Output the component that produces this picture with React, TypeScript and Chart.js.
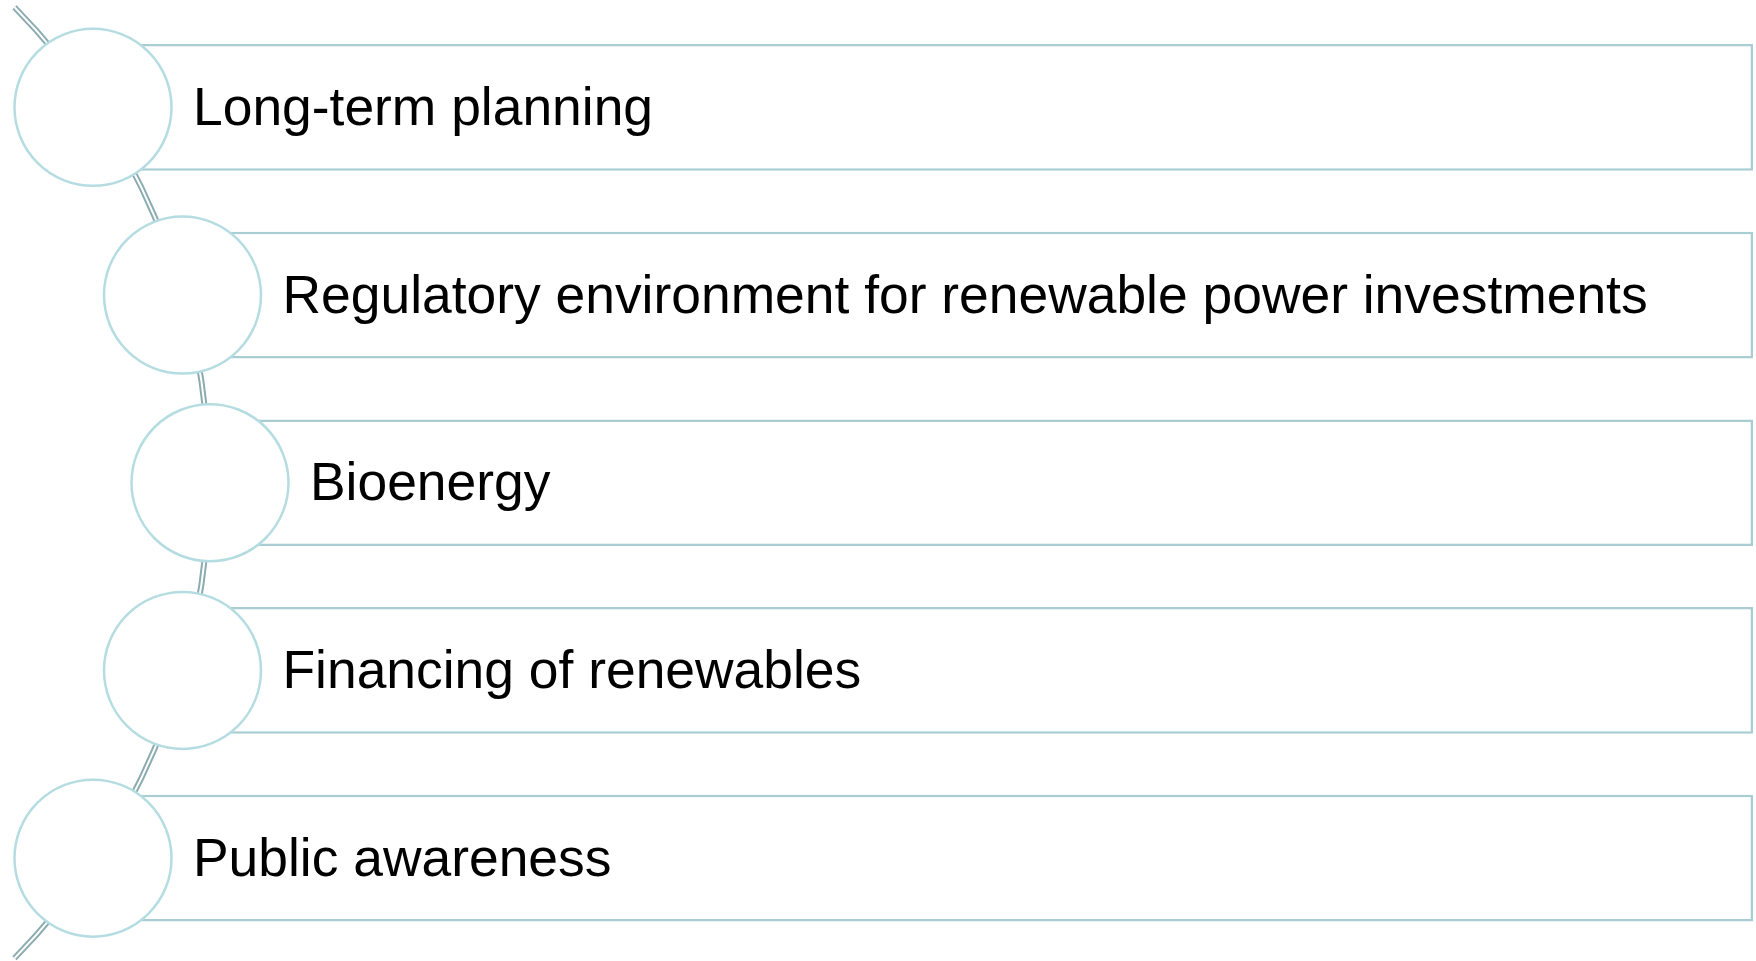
import React, { useEffect, useRef } from "react";
import { Chart, registerables } from "chart.js";

Chart.register(...registerables);

const labels = [
  "Long-term planning",
  "Regulatory environment for renewable power investments",
  "Bioenergy",
  "Financing of renewables",
  "Public awareness",
];
// x position (layout units) of each marker circle centre
const circleX = [93, 182.5, 210, 182.5, 93];
// right end of each list bar
const barEnd = [1753, 1753, 1753, 1753, 1753];
// connector arc: centre x (layout units) and radius
const arcCenterX = -469.5;
const arcRadius = 678.5;
const arcHalfSpan = 475.5;

const W = 1756;
const H = 961;

const drawPlugin = {
  id: "listDecor",
  beforeDatasetsDraw(chart: any) {
    const { ctx, scales } = chart;
    const xs = scales.x;
    const ys = scales.y;
    const cy = ys.getPixelForValue(2);
    const cx = xs.getPixelForValue(arcCenterX);
    const r = xs.getPixelForValue(arcCenterX + arcRadius) - cx;
    const a = Math.asin(arcHalfSpan / arcRadius);
    ctx.save();
    ctx.beginPath();
    ctx.arc(cx, cy, r, -a, a);
    ctx.strokeStyle = "#8aabb0";
    ctx.lineWidth = 6;
    ctx.stroke();
    ctx.beginPath();
    ctx.arc(cx, cy, r, -a, a);
    ctx.strokeStyle = "#ffffff";
    ctx.lineWidth = 2;
    ctx.stroke();
    ctx.restore();
  },
  afterDatasetsDraw(chart: any) {
    const { ctx, scales } = chart;
    const xs = scales.x;
    const ys = scales.y;
    ctx.save();
    ctx.fillStyle = "#000000";
    ctx.font = '53.4px "Liberation Sans", Arial, sans-serif';
    ctx.textBaseline = "middle";
    ctx.textAlign = "left";
    labels.forEach((t, i) => {
      const x = xs.getPixelForValue(circleX[i]) + 100;
      const y = ys.getPixelForValue(i) + 3;
      ctx.fillText(t, x, y);
    });
    ctx.restore();
  },
};

export default function App() {
  const ref = useRef<HTMLCanvasElement>(null);
  useEffect(() => {
    document.body.style.margin = "0";
    const chart = new Chart(ref.current!, {
      type: "bar",
      data: {
        labels,
        datasets: [
          {
            type: "scatter" as any,
            data: labels.map((l, i) => ({ x: circleX[i], y: l })),
            pointRadius: 78.5,
            pointHoverRadius: 78.5,
            pointBackgroundColor: "#ffffff",
            pointBorderColor: "#b5dde1",
            pointBorderWidth: 2.5,
            clip: false,
            order: 0,
          } as any,
          {
            type: "bar",
            data: labels.map((_, i) => [circleX[i], barEnd[i]]),
            backgroundColor: "#ffffff",
            borderColor: "#a8cdd2",
            borderWidth: 2.5,
            borderSkipped: false,
            barPercentage: 0.675,
            categoryPercentage: 1,
            clip: false,
            order: 1,
          } as any,
        ],
      },
      options: {
        indexAxis: "y",
        animation: false,
        responsive: false,
        maintainAspectRatio: false,
        layout: { autoPadding: false, padding: { top: 13.5, bottom: 9, left: 0, right: 0 } },
        plugins: { legend: { display: false }, tooltip: { enabled: false } },
        events: [],
        scales: {
          x: { type: "linear", min: 0, max: W, display: false },
          y: { type: "category", display: false, offset: true },
        },
      },
      plugins: [drawPlugin],
    });
    return () => chart.destroy();
  }, []);
  return (
    <div style={{ position: "absolute", left: 0, top: 0, width: W, height: H, background: "#ffffff" }}>
      <canvas ref={ref} width={W} height={H} style={{ width: W, height: H }} />
    </div>
  );
}
